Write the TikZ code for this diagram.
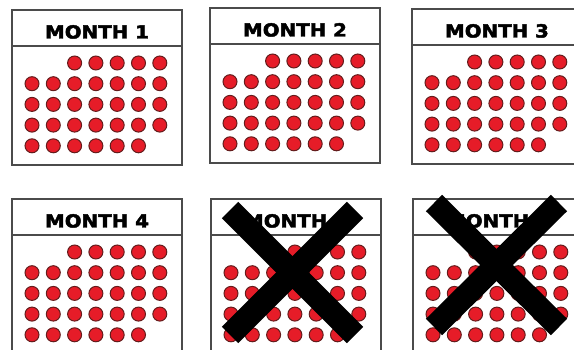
\documentclass[tikz,border=0pt]{standalone}
\usepackage{fontspec}
\newfontfamily\headfont[FakeBold=2.4]{DejaVu Sans Bold}
\definecolor{dotred}{RGB}{230,28,40}
\definecolor{dotrim}{RGB}{100,28,28}
\definecolor{boxgray}{RGB}{75,75,75}
\tikzset{
  monthframe/.style={draw=boxgray, line width=1.3pt},
  reddot/.style={fill=dotred, draw=dotrim, line width=1pt},
  monthlabel/.style={anchor=base, inner sep=0pt, xscale=1.1,
    font=\headfont\fontsize{18}{18}\selectfont},
  crossbar/.style={black, line width=23pt}
}
% one calendar page: left, top, label, name
\newcommand{\monthpanel}[4]{%
  \draw[monthframe] (#1,#2) rectangle ++(170,155);
  \draw[monthframe] (#1,#2+36) -- ++(170,0);
  \node[monthlabel] (#4) at (#1+85,#2+28.5) {#3};
  \foreach \r/\cfrom/\cto in {1/3/7,2/1/7,3/1/7,4/1/7,5/1/6}
    \foreach \c in {\cfrom,...,\cto}
      \draw[reddot] (#1-1.3+21.3*\c, #2+32.3+20.7*\r) circle (7);
}
\begin{document}
\begin{tikzpicture}[x=1pt,y=-1pt]
  \useasboundingbox (0,0) rectangle (574,350);
  \clip (0,0) rectangle (574,350);
  \monthpanel{12}{10}{MONTH 1}{m1}
  \monthpanel{210}{8}{MONTH 2}{m2}
  \monthpanel{412}{9}{MONTH 3}{m3}
  \monthpanel{12}{199}{MONTH 4}{m4}
  \monthpanel{211}{199}{MONTH 5}{m5}
  \monthpanel{413}{199}{MONTH 6}{m6}
  % crossed out months
  \draw[crossbar] (230,210) -- (355,335);
  \draw[crossbar] (355,210) -- (230,335);
  \draw[crossbar] (434,203) -- (559,327);
  \draw[crossbar] (559,203) -- (434,327);
\end{tikzpicture}
\end{document}
